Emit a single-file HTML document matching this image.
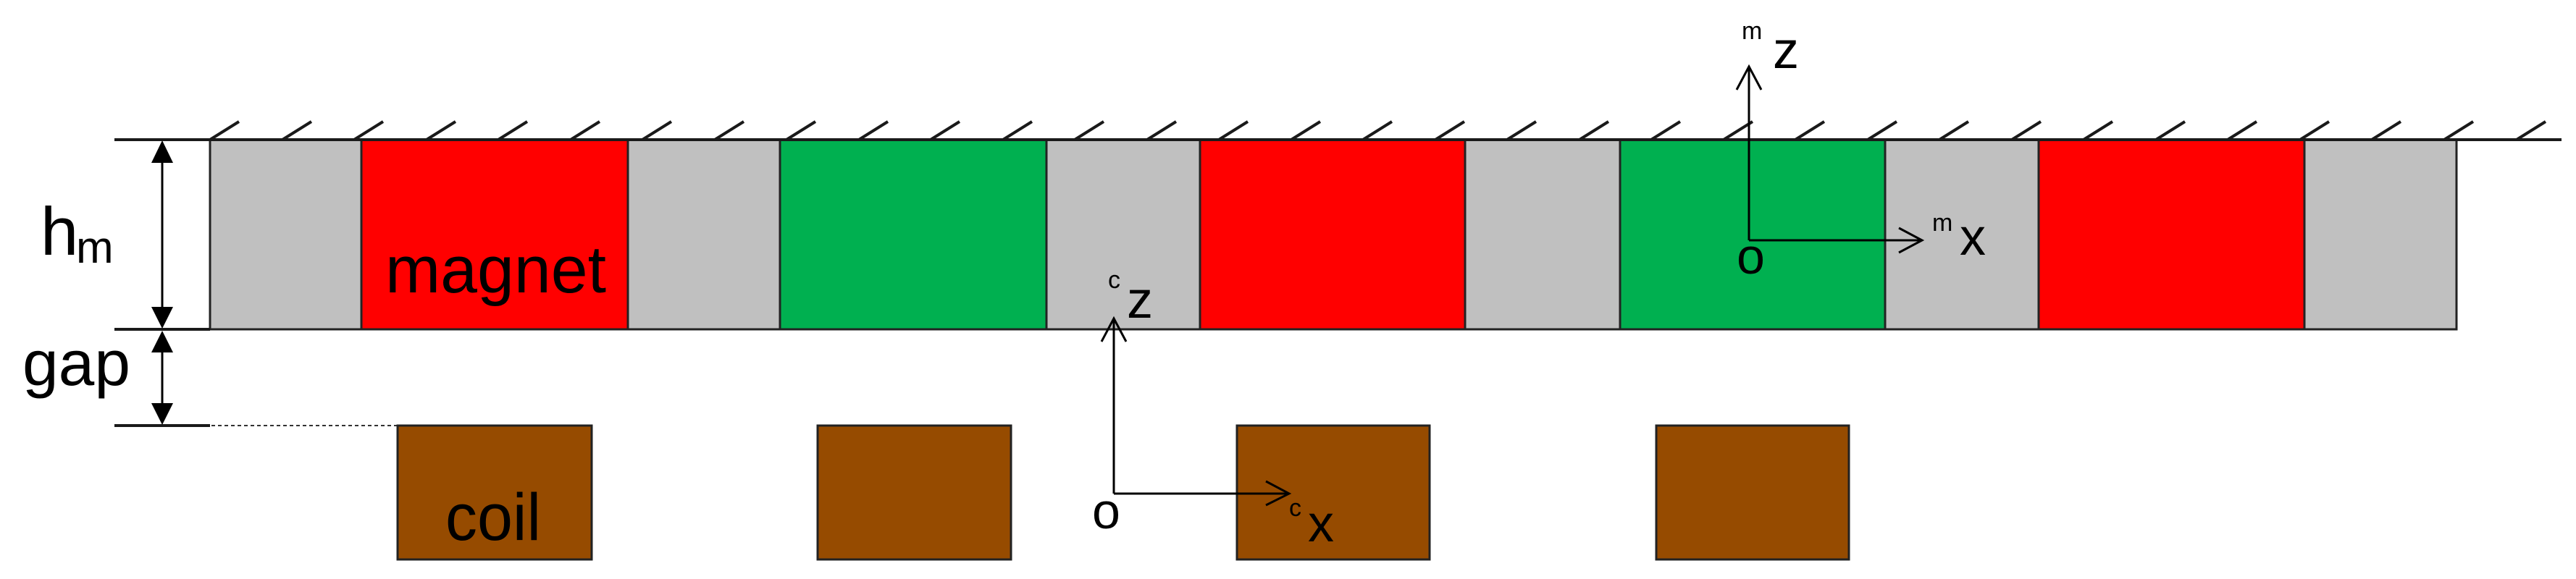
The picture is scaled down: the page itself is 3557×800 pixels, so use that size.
<!DOCTYPE html>
<html><head><meta charset="utf-8"><style>
html,body{margin:0;padding:0;background:#fff}
svg{display:block}
text{font-family:"Liberation Sans",Arial,sans-serif;fill:#000}
</style></head><body>
<svg width="3557" height="800" viewBox="0 0 3557 800" xmlns="http://www.w3.org/2000/svg">
<!-- hatch marks -->
<g stroke="#1a1a1a" stroke-width="4">
<path d="M290 193l40-25M390 193l40-25M489 193l40-25M589 193l40-25M688 193l40-25M788 193l40-25M887 193l40-25M987 193l40-25M1086 193l40-25M1186 193l40-25M1285 193l40-25M1385 193l40-25M1484 193l40-25M1584 193l40-25M1683 193l40-25M1783 193l40-25M1882 193l40-25M1982 193l40-25M2081 193l40-25M2181 193l40-25M2280 193l40-25M2380 193l40-25M2479 193l40-25M2579 193l40-25M2678 193l40-25M2778 193l40-25M2877 193l40-25M2977 193l40-25M3076 193l40-25M3176 193l40-25M3275 193l40-25M3375 193l40-25M3475 193l40-25"/>
</g>
<!-- blocks -->
<g stroke="#222" stroke-width="3">
<rect x="290" y="193" width="209" height="262" fill="#c0c0c0"/>
<rect x="499" y="193" width="368" height="262" fill="#ff0000"/>
<rect x="867" y="193" width="210" height="262" fill="#c0c0c0"/>
<rect x="1077" y="193" width="368" height="262" fill="#00b050"/>
<rect x="1445" y="193" width="212" height="262" fill="#c0c0c0"/>
<rect x="1657" y="193" width="366" height="262" fill="#ff0000"/>
<rect x="2023" y="193" width="214" height="262" fill="#c0c0c0"/>
<rect x="2237" y="193" width="366" height="262" fill="#00b050"/>
<rect x="2603" y="193" width="212" height="262" fill="#c0c0c0"/>
<rect x="2815" y="193" width="367" height="262" fill="#ff0000"/>
<rect x="3182" y="193" width="210" height="262" fill="#c0c0c0"/>
</g>
<!-- top line & extension lines -->
<g stroke="#1a1a1a" stroke-width="4">
<line x1="158" y1="193" x2="3537" y2="193"/>
<line x1="158" y1="455" x2="290" y2="455"/>
<line x1="158" y1="588" x2="290" y2="588"/>
</g>
<line x1="292" y1="588" x2="549" y2="588" stroke="#333" stroke-width="2" stroke-dasharray="5,4"/>
<!-- dimension arrows -->
<g stroke="#000" stroke-width="3"><line x1="224" y1="200" x2="224" y2="450"/><line x1="224" y1="460" x2="224" y2="582"/></g>
<g fill="#000">
<polygon points="224,194 209,225 239,225"/>
<polygon points="224,454 209,424 239,424"/>
<polygon points="224,457 209,487 239,487"/>
<polygon points="224,587 209,557 239,557"/>
</g>
<!-- coils -->
<g stroke="#222" stroke-width="3" fill="#964b00">
<rect x="549" y="588" width="268" height="185"/>
<rect x="1129" y="588" width="267" height="185"/>
<rect x="1708" y="588" width="266" height="185"/>
<rect x="2287" y="588" width="266" height="185"/>
</g>
<!-- labels -->
<text x="56" y="352" font-size="94">h</text>
<text x="105" y="363" font-size="62">m</text>
<text x="31" y="532" font-size="88" textLength="149" lengthAdjust="spacingAndGlyphs">gap</text>
<text x="532" y="404" font-size="92" textLength="305" lengthAdjust="spacingAndGlyphs">magnet</text>
<text x="615" y="746" font-size="92" textLength="132" lengthAdjust="spacingAndGlyphs">coil</text>
<!-- c axes -->
<g stroke="#000" stroke-width="3" fill="none">
<polyline points="1538,682 1538,440"/>
<polyline points="1521,472 1538,440 1555,472"/>
<polyline points="1538,682 1780,682"/>
<polyline points="1748,665 1780,682 1748,698"/>
<!-- m axes -->
<polyline points="2415,332 2415,92"/>
<polyline points="2398,124 2415,92 2432,124"/>
<polyline points="2415,332 2654,332"/>
<polyline points="2622,315 2654,332 2622,349"/>
</g>
<text x="1508" y="730" font-size="70">o</text>
<text x="1530" y="398" font-size="34">c</text>
<text x="1556" y="439" font-size="72">z</text>
<text x="1780" y="713" font-size="34">c</text>
<text x="1806" y="748" font-size="72">x</text>
<text x="2398" y="378" font-size="70">o</text>
<text x="2405" y="54" font-size="34">m</text>
<text x="2448" y="94" font-size="72">z</text>
<text x="2668" y="319" font-size="34">m</text>
<text x="2706" y="352" font-size="72">x</text>
</svg>
</body></html>
